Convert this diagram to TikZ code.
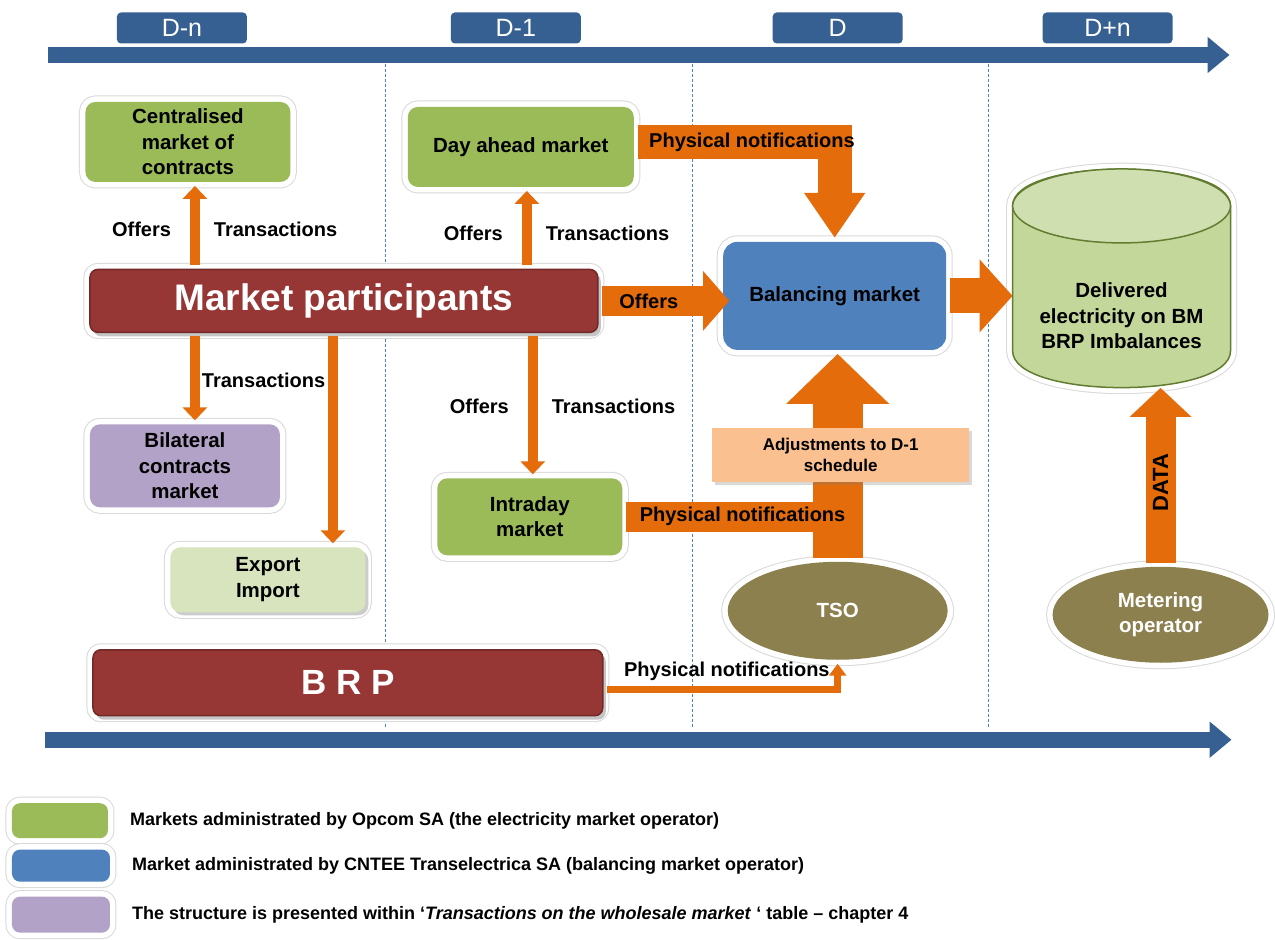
\documentclass[tikz,border=0pt]{standalone}
\usepackage{fontspec}
\setmainfont{Liberation Sans}
\usepackage{xcolor}
\usepackage{tikz}
\usetikzlibrary{arrows.meta, positioning, shapes.geometric, shadows, calc}
\definecolor{mkt_navy}{RGB}{54, 96, 146}
\definecolor{mkt_orange}{RGB}{228, 108, 10}
\definecolor{mkt_green}{RGB}{155, 187, 89}
\definecolor{mkt_blue}{RGB}{79, 129, 189}
\definecolor{mkt_red}{RGB}{150, 55, 53}
\definecolor{mkt_purple}{RGB}{179, 162, 199}
\definecolor{mkt_lime}{RGB}{215, 228, 189}
\definecolor{mkt_peach}{RGB}{250, 192, 144}
\definecolor{mkt_olive}{RGB}{140, 128, 78}
\definecolor{mkt_cyl}{RGB}{196, 215, 155}
\definecolor{mkt_cyledge}{RGB}{98, 124, 48}

\begin{document}
\begin{tikzpicture}[
        x=1pt, y=-1pt,
        txt/.style={font=\fontsize{20.5}{25.5}\selectfont\bfseries, align=center},
        lbl/.style={font=\fontsize{20}{24}\selectfont\bfseries, inner sep=0pt},
        legtxt/.style={font=\fontsize{18}{20}\selectfont\bfseries, inner sep=0pt},
        rim/.style={preaction={draw=gray!30, line width=13pt},
                    preaction={draw=white, line width=11pt}},
        box/.style={txt, rectangle, rounded corners=10pt, inner sep=0pt, outer sep=4pt},
        market/.style={box, rim, fill=mkt_green},
        balbox/.style={box, rim, fill=mkt_blue, rounded corners=14pt},
        redbox/.style={box, rim, drop shadow={shadow xshift=3pt, shadow yshift=-4pt, opacity=.45},
                       fill=mkt_red, draw=mkt_red!75!black, line width=1.5pt, text=white,
                       rounded corners=8pt},
        operator/.style={txt, ellipse, rim, fill=mkt_olive, text=white,
                         inner sep=0pt, outer sep=4pt},
        adjbox/.style={rectangle, fill=mkt_peach, inner sep=0pt,
                       drop shadow={shadow xshift=3pt, shadow yshift=-3pt, opacity=.3},
                       font=\fontsize{17}{21}\selectfont\bfseries, align=center},
        daybox/.style={rectangle, rounded corners=4pt, fill=mkt_navy, text=white,
                       minimum width=130pt, minimum height=31pt, inner sep=0pt,
                       font=\fontsize{25}{25}\selectfont},
        timeline/.style={draw=mkt_navy, line width=16pt, -{Triangle[width=35pt, length=22pt]}},
        thinarrow/.style={draw=mkt_orange, line width=10pt, -{Triangle[width=24pt, length=13pt]}},
        brparrow/.style={draw=mkt_orange, line width=7pt, -{Triangle[width=17pt, length=12pt]}},
        fatarrow/.style n args={3}{draw=mkt_orange, line width=#1,
                                   -{Triangle[width=#2, length=#3]}},
      ]
        \path[fill=white] (0,0) rectangle (1275,933);

        \foreach \x in {386, 693, 989}
          \draw[mkt_blue, line width=1pt, dash pattern=on 3pt off 2pt] (\x,64) -- (\x,728);

        \coordinate (tl_top_s) at (48,55);
        \coordinate (tl_top_e) at (1230,55);
        \coordinate (tl_bot_s) at (45,740);
        \coordinate (tl_bot_e) at (1232,740);
        \draw[timeline] (tl_top_s) -- (tl_top_e);
        \draw[timeline] (tl_bot_s) -- (tl_bot_e);

        \node[daybox] (dn)  at (182,28)  {D-n};
        \node[daybox] (d1)  at (516,28)  {D-1};
        \node[daybox] (d0)  at (838,28)  {D};
        \node[daybox] (dpn) at (1108,28) {D+n};

        \coordinate (cylw)   at (1013,293);
        \coordinate (cylbot) at (1122,388);
        \filldraw[rim, fill=mkt_cyl, draw=mkt_cyledge, line width=1.5pt]
          (1013,206) -- (1013,351) .. controls (1013,400) and (1231,400) .. (1231,351)
          -- (1231,206) .. controls (1231,157) and (1013,157) .. (1013,206) -- cycle;
        \draw[fill=mkt_cyl!80!white, draw=mkt_cyledge, line width=1.5pt]
          (1122,206) ellipse [x radius=109, y radius=37];
        \node[txt] (cyl) at (1122,316) {Delivered\\electricity on BM\\BRP Imbalances};

        \node[market, minimum width=205pt, minimum height=80pt] (cmc) at (188,142)
          {Centralised\\market of\\contracts};
        \node[market, minimum width=226pt, minimum height=80pt] (dam) at (521,147)
          {Day ahead market};
        \node[redbox, minimum width=508pt, minimum height=63pt,
              font=\fontsize{37}{40}\selectfont\bfseries] (mp) at (344,301)
          {Market participants};
        \node[balbox, minimum width=223pt, minimum height=108pt] (bal) at (835,296)
          {Balancing market};
        \node[market, fill=mkt_purple, minimum width=190pt, minimum height=83pt] (bil) at (185,466)
          {Bilateral\\contracts\\market};
        \node[market, fill=mkt_lime, drop shadow={shadow xshift=3pt, shadow yshift=-3pt, opacity=.4},
              minimum width=195pt, minimum height=65pt] (exim) at (268,580)
          {Export\\Import};
        \node[market, minimum width=185pt, minimum height=77pt] (intra) at (530,517)
          {Intraday\\market};
        \node[operator, minimum width=220pt, minimum height=98pt] (tso) at (838,611) {TSO};
        \node[operator, minimum width=216pt, minimum height=96pt] (meter) at (1161,615)
          {Metering\\operator};
        \node[redbox, minimum width=510pt, minimum height=66pt,
              font=\fontsize{35}{38}\selectfont\bfseries] (brp) at (348,683) {B R P};

        \coordinate (mp_cmc)   at ([xshift=-149pt]mp.north);
        \coordinate (mp_dam)   at ([xshift=183pt]mp.north);
        \coordinate (mp_bil)   at ([xshift=-149pt]mp.south);
        \coordinate (mp_exim)  at ([xshift=-11pt]mp.south);
        \coordinate (mp_intra) at ([xshift=189pt]mp.south);

        \draw[thinarrow] (mp_cmc) -- node[lbl, pos=.45, left=19pt] {Offers}
          node[lbl, pos=.45, right=14pt] {Transactions} (mp_cmc |- cmc.south);
        \draw[thinarrow] (mp_dam) -- node[lbl, pos=.43, left=19pt] {Offers}
          node[lbl, pos=.43, right=14pt] {Transactions} (mp_dam |- dam.south);
        \draw[thinarrow] (mp_bil) -- node[lbl, pos=.52, right=2pt] {Transactions}
          (mp_bil |- bil.north);
        \draw[thinarrow] (mp_exim) -- (mp_exim |- exim.north);
        \draw[thinarrow] (mp_intra) -- node[lbl, pos=.51, left=19pt] {Offers}
          node[lbl, pos=.51, right=14pt] {Transactions} (mp_intra |- intra.north);

        \draw[fatarrow={30pt}{58pt}{26pt}, shorten >=-10pt]
          (mp.east) -- node[lbl, pos=.4] {Offers} (mp.east -| bal.west);
        \draw[fatarrow={34pt}{58pt}{45pt}]
          ([yshift=5pt]dam.east) -| node[lbl, pos=.29] {Physical notifications} (bal.north);
        \draw[fatarrow={35pt}{71pt}{33pt}] (bal.east) -- (bal.east -| cylw);
        \draw[fatarrow={50pt}{100pt}{50pt}] (tso.north) -- (tso.north |- bal.south);
        \draw[draw=mkt_orange, line width=30pt]
          (intra.east) -- node[lbl, pos=.55] {Physical notifications} (intra.east -| tso.north);

        \node[adjbox, minimum width=257pt, minimum height=54pt] (adj) at (841,455)
          {Adjustments to D-1\\schedule};

        \draw[brparrow] ([yshift=-7pt]brp.east) -|
          node[lbl, pos=.26, above=6pt] {Physical notifications} (tso.south);
        \draw[fatarrow={30pt}{60pt}{29pt}] (meter.north) --
          node[lbl, pos=.46, rotate=90, font=\fontsize{22}{24}\selectfont\bfseries] {DATA}
          (meter.north |- cylbot);

        \node[market, rounded corners=8pt, minimum width=96pt, minimum height=35pt] (lg_opcom) at (60,821) {};
        \node[balbox, rounded corners=8pt, minimum width=98pt, minimum height=32pt] (lg_tel) at (61,866) {};
        \node[market, fill=mkt_purple, rounded corners=8pt, minimum width=98pt, minimum height=36pt] (lg_bil) at (61,915) {};
        \node[legtxt, right=18pt of lg_opcom]
          {Markets administrated by Opcom SA (the electricity market operator)};
        \node[legtxt, right=18pt of lg_tel]
          {Market administrated by CNTEE Transelectrica SA (balancing market operator)};
        \node[legtxt, right=18pt of lg_bil]
          {The structure is presented within ‘\textit{Transactions on the wholesale market} ‘ table – chapter 4};
      \end{tikzpicture}
\end{document}
